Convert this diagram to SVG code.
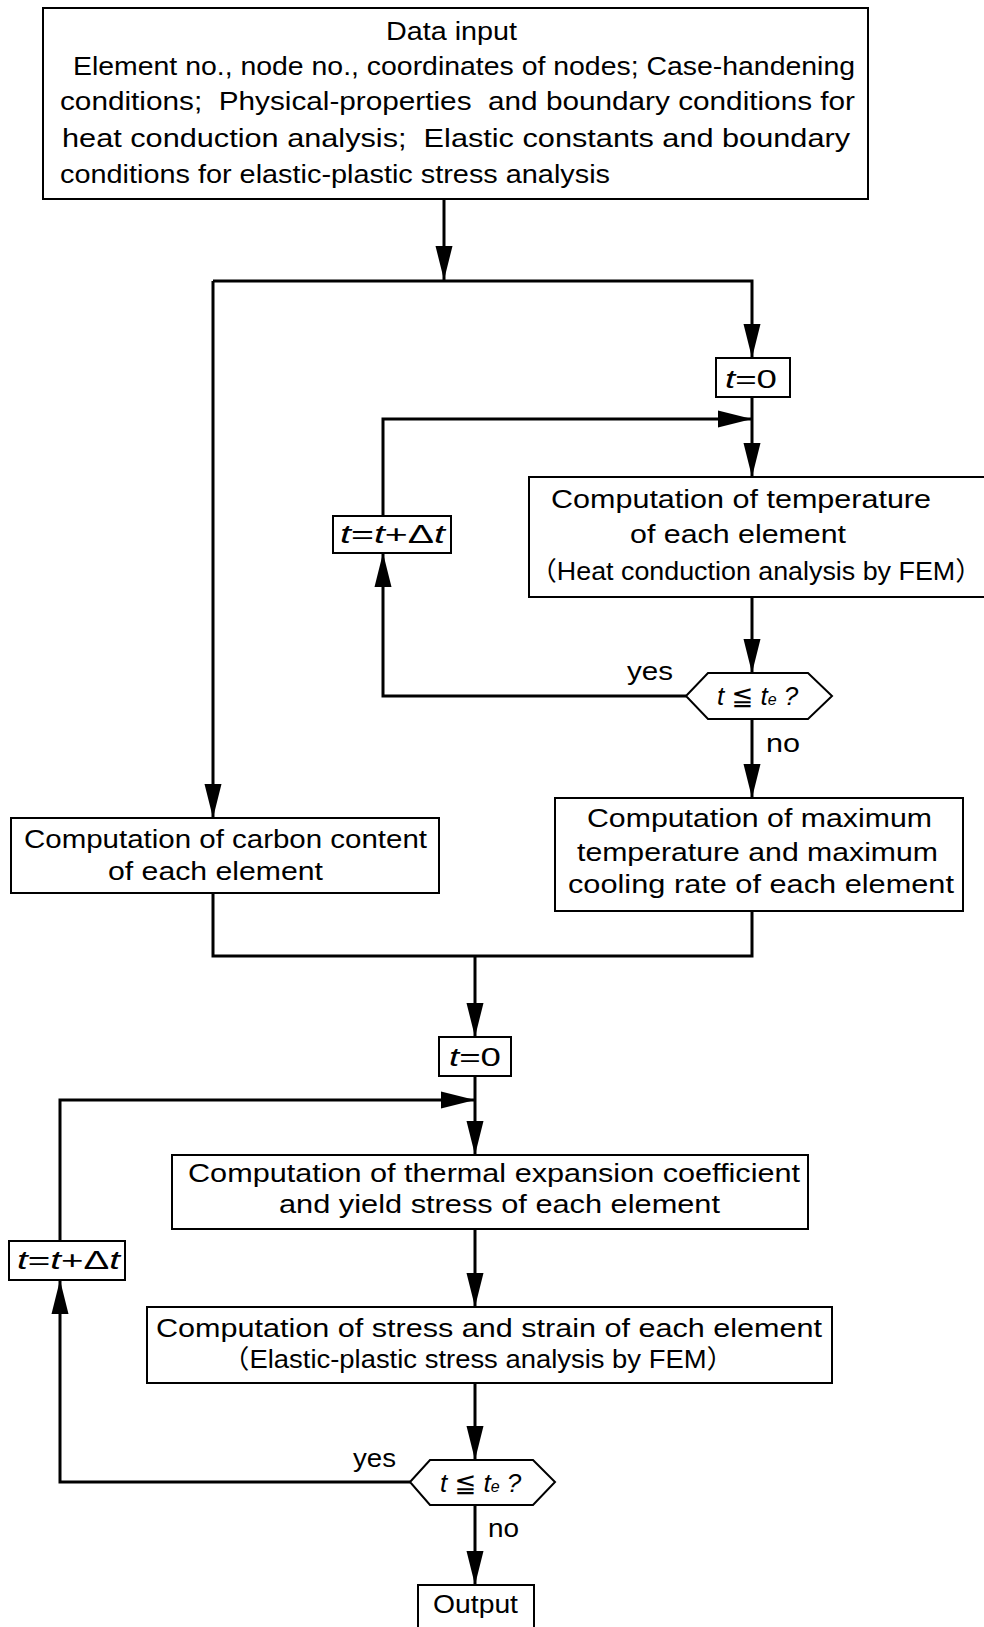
<svg xmlns="http://www.w3.org/2000/svg" width="984" height="1627" viewBox="0 0 984 1627">
<style>
.bx{fill:#fff;stroke:#000;stroke-width:2}
.ln{fill:none;stroke:#000;stroke-width:3}
.t{font-family:"Liberation Sans","Noto Sans CJK SC",sans-serif;font-size:26px;fill:#000}
.m{font-family:"Liberation Sans","DejaVu Sans",sans-serif;font-size:26px;fill:#000}
.i{font-style:italic}
</style>
<defs>
<marker id="ah" markerUnits="userSpaceOnUse" markerWidth="34" markerHeight="18" refX="34" refY="9" orient="auto">
<path d="M0,0.5 L34,9 L0,17.5 z" fill="#000"/>
</marker>
</defs>
<rect width="984" height="1627" fill="#fff"/>

<g id="connectors">
<path class="ln" d="M444,199 V280" marker-end="url(#ah)"/>
<path class="ln" d="M213,281 H752 V358" marker-end="url(#ah)"/>
<path class="ln" d="M213,281 V818" marker-end="url(#ah)"/>
<path class="ln" d="M752,397 V477" marker-end="url(#ah)"/>
<path class="ln" d="M383,516 V419 H752" marker-end="url(#ah)"/>
<path class="ln" d="M752,597 V673" marker-end="url(#ah)"/>
<path class="ln" d="M686,696 H383 V553" marker-end="url(#ah)"/>
<path class="ln" d="M752,719 V798" marker-end="url(#ah)"/>
<path class="ln" d="M213,893 V956 H752 V911"/>
<path class="ln" d="M475,956 V1037" marker-end="url(#ah)"/>
<path class="ln" d="M475,1076 V1155" marker-end="url(#ah)"/>
<path class="ln" d="M60,1241 V1100 H475" marker-end="url(#ah)"/>
<path class="ln" d="M475,1229 V1307" marker-end="url(#ah)"/>
<path class="ln" d="M475,1383 V1460" marker-end="url(#ah)"/>
<path class="ln" d="M410,1482 H60 V1280" marker-end="url(#ah)"/>
<path class="ln" d="M475,1505 V1585" marker-end="url(#ah)"/>
<text class="t" x="627" y="680" textLength="46" lengthAdjust="spacingAndGlyphs">yes</text>
<text class="t" x="766" y="752" textLength="34" lengthAdjust="spacingAndGlyphs">no</text>
<text class="t" x="353" y="1467" textLength="43" lengthAdjust="spacingAndGlyphs">yes</text>
<text class="t" x="488" y="1537" textLength="31" lengthAdjust="spacingAndGlyphs">no</text>
</g>

<g id="data-input">
<rect class="bx" x="43" y="8" width="825" height="191"/>
<text class="t" x="386" y="40" textLength="131" lengthAdjust="spacingAndGlyphs">Data input</text>
<text class="t" x="73" y="75" textLength="782" lengthAdjust="spacingAndGlyphs">Element no., node no., coordinates of nodes; Case-handening</text>
<text class="t" x="60" y="110" textLength="795" lengthAdjust="spacingAndGlyphs" xml:space="preserve">conditions;  Physical-properties  and boundary conditions for</text>
<text class="t" x="62" y="147" textLength="788" lengthAdjust="spacingAndGlyphs" xml:space="preserve">heat conduction analysis;  Elastic constants and boundary</text>
<text class="t" x="60" y="183" textLength="550" lengthAdjust="spacingAndGlyphs">conditions for elastic-plastic stress analysis</text>
</g>

<g id="t0-a">
<rect class="bx" x="716" y="358" width="74" height="39"/>
<text class="t" x="725" y="388" textLength="52" lengthAdjust="spacingAndGlyphs"><tspan class="i">t</tspan>=0</text>
</g>

<g id="tinc-a">
<rect class="bx" x="333" y="516" width="118" height="37"/>
<text class="m" x="340" y="543" textLength="105" lengthAdjust="spacingAndGlyphs"><tspan class="i">t</tspan>=<tspan class="i">t</tspan>+Δ<tspan class="i">t</tspan></text>
</g>

<g id="temperature">
<rect class="bx" x="529" y="477" width="470" height="120"/>
<text class="t" x="551" y="508" textLength="380" lengthAdjust="spacingAndGlyphs">Computation of temperature</text>
<text class="t" x="630" y="543" textLength="216" lengthAdjust="spacingAndGlyphs">of each element</text>
<text class="t" x="530" y="580" textLength="452" lengthAdjust="spacingAndGlyphs">（Heat conduction analysis by FEM）</text>
</g>

<g id="check-a">
<polygon class="bx" points="686,696 708,673 808,673 832,696 808,719 708,719"/>
<text class="m" x="717" y="705"><tspan class="i">t</tspan> ≦ <tspan class="i">t</tspan><tspan class="i" font-size="16">e</tspan><tspan class="i"> ?</tspan></text>
</g>

<g id="max-temp">
<rect class="bx" x="555" y="798" width="408" height="113"/>
<text class="t" x="587" y="827" textLength="345" lengthAdjust="spacingAndGlyphs">Computation of maximum</text>
<text class="t" x="577" y="861" textLength="361" lengthAdjust="spacingAndGlyphs">temperature and maximum</text>
<text class="t" x="568" y="893" textLength="386" lengthAdjust="spacingAndGlyphs">cooling rate of each element</text>
</g>

<g id="carbon">
<rect class="bx" x="11" y="818" width="428" height="75"/>
<text class="t" x="24" y="848" textLength="403" lengthAdjust="spacingAndGlyphs">Computation of carbon content</text>
<text class="t" x="108" y="880" textLength="215" lengthAdjust="spacingAndGlyphs">of each element</text>
</g>

<g id="t0-b">
<rect class="bx" x="439" y="1037" width="72" height="39"/>
<text class="t" x="449" y="1066" textLength="52" lengthAdjust="spacingAndGlyphs"><tspan class="i">t</tspan>=0</text>
</g>

<g id="thermal">
<rect class="bx" x="172" y="1155" width="636" height="74"/>
<text class="t" x="188" y="1182" textLength="612" lengthAdjust="spacingAndGlyphs">Computation of thermal expansion coefficient</text>
<text class="t" x="279" y="1213" textLength="441" lengthAdjust="spacingAndGlyphs">and yield stress of each element</text>
</g>

<g id="stress">
<rect class="bx" x="147" y="1307" width="685" height="76"/>
<text class="t" x="156" y="1337" textLength="666" lengthAdjust="spacingAndGlyphs">Computation of stress and strain of each element</text>
<text class="t" x="222" y="1368" textLength="512" lengthAdjust="spacingAndGlyphs">（Elastic-plastic stress analysis by FEM）</text>
</g>

<g id="check-b">
<polygon class="bx" points="410,1482 430,1460 533,1460 555,1482 533,1505 430,1505"/>
<text class="m" x="440" y="1492"><tspan class="i">t</tspan> ≦ <tspan class="i">t</tspan><tspan class="i" font-size="16">e</tspan><tspan class="i"> ?</tspan></text>
</g>

<g id="tinc-b">
<rect class="bx" x="9" y="1241" width="116" height="39"/>
<text class="m" x="17" y="1269" textLength="103" lengthAdjust="spacingAndGlyphs"><tspan class="i">t</tspan>=<tspan class="i">t</tspan>+Δ<tspan class="i">t</tspan></text>
</g>

<g id="output">
<rect class="bx" x="418" y="1585" width="116" height="50"/>
<text class="t" x="433" y="1613" textLength="85" lengthAdjust="spacingAndGlyphs">Output</text>
</g>
</svg>
